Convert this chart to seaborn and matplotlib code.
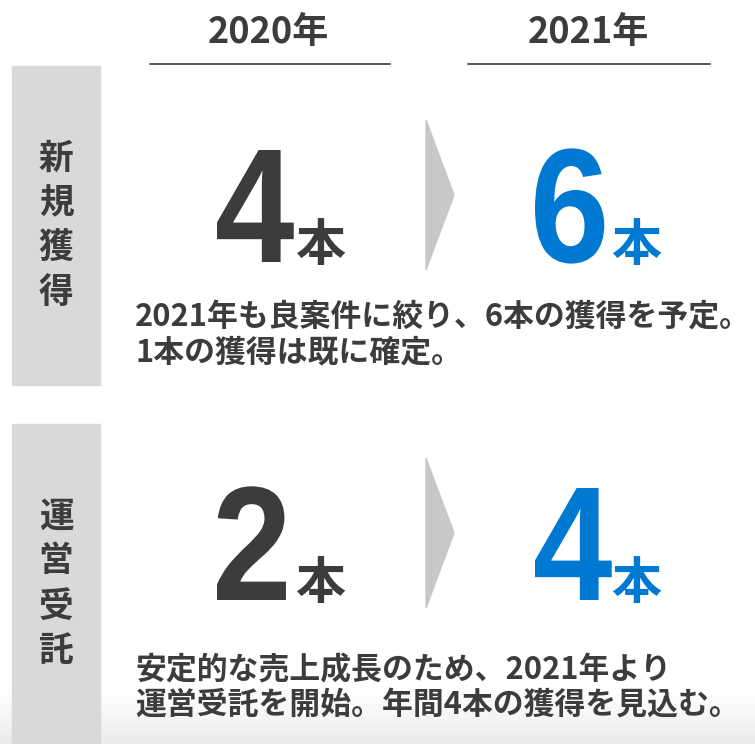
import numpy as np
import seaborn as sns
import matplotlib.pyplot as plt
from matplotlib.patches import Rectangle, Polygon, PathPatch
from matplotlib.textpath import TextPath
from matplotlib.font_manager import FontProperties
from matplotlib.transforms import Affine2D
from matplotlib.colors import LinearSegmentedColormap

# --- data ---
YEARS = ['2020年', '2021年']
CATEGORIES = ['新規獲得', '運営受託']
COUNT_2020 = [4, 2]
COUNT_2021 = [6, 4]
UNIT = '本'
NOTES = [
    ['2021年も良案件に絞り、6本の獲得を予定。', '1本の獲得は既に確定。'],
    ['安定的な売上成長のため、2021年より', '運営受託を開始。年間4本の獲得を見込む。'],
]

# --- style ---
sns.set_theme(style='white')
plt.rcParams['font.family'] = ['Noto Sans CJK JP', 'DejaVu Sans']
DARK = '#3c3c3c'
BLUE = '#0079d2'
BOX = '#d9d9d9'
ARROW = '#c8c8c8'
JP = ['Noto Sans CJK JP', 'DejaVu Sans']
NUM_FONT = FontProperties(family='Liberation Sans', weight='bold')

fig = plt.figure(figsize=(7.55, 7.44), dpi=100)
ax = fig.add_axes([0, 0, 1, 1])
ax.set_xlim(0, 755)
ax.set_ylim(744, 0)
ax.axis('off')

# faint shadow at the bottom edge
shade = LinearSegmentedColormap.from_list('shade', ['#ffffff', '#ececec'])
grad = np.linspace(0, 1, 100).reshape(-1, 1)
ax.imshow(grad, cmap=shade, extent=(0, 755, 744, 690), aspect='auto', zorder=0)

# big digits are drawn as slightly narrowed paths
ref = TextPath((0, 0), '4', size=1, prop=NUM_FONT).get_extents()
DIGIT_SCALE = 112 / ref.height
DIGIT_NARROW = 0.88


def big_number(x_left, y_base, s, color):
    path = TextPath((0, 0), s, size=1, prop=NUM_FONT)
    ext = path.get_extents()
    tr = (Affine2D().translate(-ext.x0, 0)
          .scale(DIGIT_SCALE * DIGIT_NARROW, -DIGIT_SCALE)
          .translate(x_left, y_base))
    ax.add_patch(PathPatch(tr.transform_path(path), color=color, lw=0, zorder=3))


# header
col_x = [268, 588]
line_span = [(150, 390), (468, 710)]
for x, yr, (x0, x1) in zip(col_x, YEARS, line_span):
    ax.text(x, 32, yr, ha='center', va='center', fontsize=26, fontweight='bold',
            color=DARK, family=JP)
    ax.plot([x0, x1], [64, 64], color='#555555', lw=1.4)

row_top = [66, 424]
row_h = [319, 320]
row_base = [262, 600]
note_y = [318, 670]
for i, cat in enumerate(CATEGORIES):
    top = row_top[i]
    ax.add_patch(Rectangle((12, top), 88, row_h[i], color=BOX, zorder=1))
    # vertical label
    for k, ch in enumerate(cat):
        ax.text(56, top + 92 + k * 45, ch, ha='center', va='center', fontsize=25,
                fontweight='bold', color=DARK, family=JP, zorder=2)

    base = row_base[i]
    # 2020 value
    big_number(217, base, str(COUNT_2020[i]), DARK)
    ax.text(295, base - 1, UNIT, ha='left', va='baseline', fontsize=36,
            fontweight='bold', color=DARK, family=JP)
    # arrow
    ax.add_patch(Polygon([(426, base - 142), (454, base - 67), (426, base + 8)],
                         closed=True, color=ARROW, zorder=1))
    # 2021 value
    big_number(535, base, str(COUNT_2021[i]), BLUE)
    ax.text(611, base - 1, UNIT, ha='left', va='baseline', fontsize=36,
            fontweight='bold', color=BLUE, family=JP)

    # notes
    for j, line in enumerate(NOTES[i]):
        ax.text(135, note_y[i] + j * 35, line, ha='left', va='center', fontsize=22.2,
                fontweight='bold', color=DARK, family=JP)

fig.savefig('out.png', dpi=100)
